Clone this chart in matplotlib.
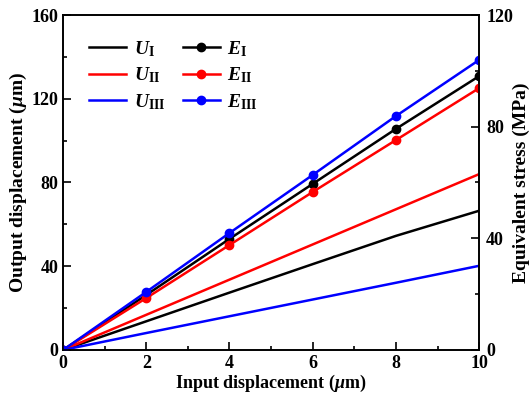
import numpy as np
import matplotlib
matplotlib.use("Agg")
import matplotlib.pyplot as plt
from matplotlib.ticker import MultipleLocator

x_in = [0, 2, 4, 6, 8, 10]

# output displacement (um), left axis
u_1 = [0, 13.7, 27.4, 41.0, 54.5, 66.5]
u_2 = [0, 16.8, 33.6, 50.4, 67.2, 84.0]
u_3 = [0, 8.1, 16.1, 24.1, 32.1, 40.2]

# equivalent stress (MPa), right axis
e_1 = [0, 19.7, 39.8, 59.5, 79.2, 98.1]
e_2 = [0, 18.6, 37.6, 56.6, 75.2, 93.8]
e_3 = [0, 20.8, 41.9, 62.7, 83.8, 103.9]

labels_u = [r'$U_{\rm I}$', r'$U_{\rm II}$', r'$U_{\rm III}$']
labels_e = [r'$E_{\rm I}$', r'$E_{\rm II}$', r'$E_{\rm III}$']
colors = ['black', 'red', 'blue']

plt.rcParams['font.family'] = 'Liberation Serif'
plt.rcParams['font.weight'] = 'bold'
plt.rcParams['mathtext.fontset'] = 'custom'
plt.rcParams['mathtext.rm'] = 'Liberation Serif:bold'
plt.rcParams['mathtext.it'] = 'Liberation Serif:italic:bold'
plt.rcParams['mathtext.bf'] = 'Liberation Serif:bold'


def style_axis(ax, pad):
    ax.tick_params(which='both', direction='in', labelsize=13, width=1.2)
    ax.tick_params(which='major', length=6, pad=pad)
    ax.tick_params(which='minor', length=3)
    for lab in ax.get_xticklabels() + ax.get_yticklabels():
        lab.set_fontweight('bold')


fig = plt.figure(figsize=(5.3, 3.95), dpi=100)
ax = fig.add_axes([0.119, 0.114, 0.785, 0.848])
ax2 = ax.twinx()

handles = []
for y, c, lab in zip([u_1, u_2, u_3], colors, labels_u):
    h, = ax.plot(x_in, y, color=c, lw=1.8, label=lab)
    handles.append(h)
for y, c, lab in zip([e_1, e_2, e_3], colors, labels_e):
    h, = ax2.plot(x_in, y, color=c, lw=1.8, marker='o', ms=6, label=lab)
    handles.append(h)

ax.set_xlim(0, 10)
ax.set_ylim(0, 160)
ax2.set_ylim(0, 120)
ax.xaxis.set_major_locator(MultipleLocator(2))
ax.xaxis.set_minor_locator(MultipleLocator(1))
ax.yaxis.set_major_locator(MultipleLocator(40))
ax.yaxis.set_minor_locator(MultipleLocator(20))
ax2.yaxis.set_major_locator(MultipleLocator(40))
ax2.yaxis.set_minor_locator(MultipleLocator(20))

for sp in list(ax.spines.values()) + list(ax2.spines.values()):
    sp.set_linewidth(1.2)

style_axis(ax, 3.5)
style_axis(ax2, 5)

ax.set_xlabel(r'Input displacement ($\mu$m)', fontsize=13, fontweight='bold', labelpad=1)
ax.set_ylabel(r'Output displacement ($\mu$m)', fontsize=14, fontweight='bold', labelpad=2)
ax2.set_ylabel('Equivalent stress (MPa)', fontsize=14, fontweight='bold', labelpad=0)

ax.legend(handles=handles, ncol=2, loc='upper left', frameon=False,
          fontsize=14, handlelength=1.9, handletextpad=0.4, columnspacing=0.9,
          bbox_to_anchor=(0.02, 0.98), labelspacing=0.35)

fig.savefig('out.png', dpi=100)
